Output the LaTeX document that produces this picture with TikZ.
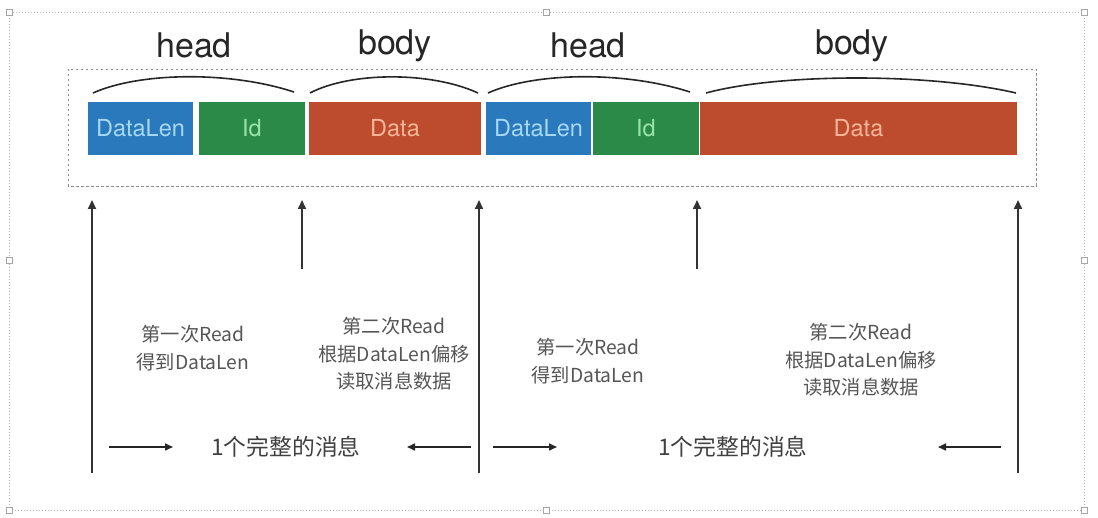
\documentclass[tikz,border=0pt]{standalone}
\usepackage{fontspec}
\setmainfont{TeX Gyre Heros}
\newfontfamily\cjk{Noto Sans CJK SC}
\usetikzlibrary{arrows.meta}
\definecolor{cblue}{HTML}{2A79BD}
\definecolor{cgreen}{HTML}{2B8A47}
\definecolor{cred}{HTML}{BD4B2D}
\definecolor{tblue}{HTML}{A6D8F5}
\definecolor{tgreen}{HTML}{98E3A8}
\definecolor{tred}{HTML}{F7B597}
\definecolor{lbl}{HTML}{555555}
\begin{document}
\begin{tikzpicture}[x=1pt,y=-1pt,
  block/.style={draw=none,minimum height=53pt,inner sep=0pt,font=\fontsize{23.5}{26}\selectfont},
  part/.style={font=\fontsize{34}{36}\selectfont,text=black!85},
  brace/.style={line width=1.6pt,black!85},
  uparrow/.style={line width=2pt,black!80,-{Triangle[length=9pt,width=8pt]}},
  sidearrow/.style={line width=1.6pt,black!85,-{Triangle[length=8pt,width=7pt]}},
  note/.style={font=\cjk\fontsize{19.3}{27.5}\selectfont,text=lbl,align=center},
  whole/.style={font=\cjk\fontsize{22.8}{24}\selectfont,text=black!75},
  handle/.style={draw=black!35,fill=white,line width=0.6pt,minimum size=6pt,inner sep=0pt}
]
\useasboundingbox (0,0) rectangle (1098,518);
% selection frame
\draw[black!30,line width=0.7pt,dash pattern=on 1.2pt off 1.8pt] (9,12) rectangle (1084,510);
\node[handle] (h1) at (9,12) {};
\node[handle] (h2) at (546,12) {};
\node[handle] (h3) at (1084,12) {};
\node[handle] (h4) at (9,260) {};
\node[handle] (h5) at (1084,260) {};
\node[handle] (h6) at (9,510) {};
\node[handle] (h7) at (546,510) {};
\node[handle] (h8) at (1084,510) {};
% inner dashed frame
\draw[black!45,line width=0.8pt,dash pattern=on 2.5pt off 2.5pt] (68,69) rectangle (1036,186);
% blocks
\node[block,fill=cblue,text=tblue,minimum width=105pt] (dl1) at (140.5,128.5) {DataLen};
\node[block,fill=cgreen,text=tgreen,minimum width=106pt] (id1) at (252,128.5) {Id};
\node[block,fill=cred,text=tred,minimum width=172pt] (d1) at (395,128.5) {Data};
\node[block,fill=cblue,text=tblue,minimum width=105pt] (dl2) at (538.5,128.5) {DataLen};
\node[block,fill=cgreen,text=tgreen,minimum width=106pt] (id2) at (646,128.5) {Id};
\node[block,fill=cred,text=tred,minimum width=317pt] (d2) at (858.5,128.5) {Data};
% braces
\coordinate (a1) at (93,93); \coordinate (b1) at (294,92);
\coordinate (a2) at (310,93); \coordinate (b2) at (478,93);
\coordinate (a3) at (488,93); \coordinate (b3) at (690,92);
\coordinate (a4) at (706,93); \coordinate (b4) at (1016,93);
\draw[brace] (a1) .. controls (140,72) and (230,71) .. (b1);
\draw[brace] (a2) .. controls (350,72) and (430,71) .. (b2);
\draw[brace] (a3) .. controls (535,72) and (625,71) .. (b3);
\draw[brace] (a4) .. controls (780,73) and (930,73) .. (b4);
\node[part] (t1) at (194,45) {head};
\node[part] (t2) at (395,46) {body};
\node[part] (t3) at (588,45) {head};
\node[part] (t4) at (852,46) {body};
% vertical arrows
\coordinate (v1s) at (92,473); \coordinate (v1e) at (92,200);
\coordinate (v2s) at (302,269); \coordinate (v2e) at (302,200);
\coordinate (v3s) at (479,473); \coordinate (v3e) at (479,200);
\coordinate (v4s) at (697,269); \coordinate (v4e) at (697,200);
\coordinate (v5s) at (1018,473); \coordinate (v5e) at (1018,200);
\draw[uparrow] (v1s) -- (v1e);
\draw[uparrow] (v2s) -- (v2e);
\draw[uparrow] (v3s) -- (v3e);
\draw[uparrow] (v4s) -- (v4e);
\draw[uparrow] (v5s) -- (v5e);
% notes
\node[note] (n1) at (193,348) {第一次Read\\得到DataLen};
\node[note] (n2) at (394,354) {第二次Read\\根据DataLen偏移\\读取消息数据};
\node[note] (n3) at (588,361) {第一次Read\\得到DataLen};
\node[note] (n4) at (861,360) {第二次Read\\根据DataLen偏移\\读取消息数据};
% whole message
\node[whole] (m1) at (286,447) {1个完整的消息};
\node[whole] (m2) at (733,447) {1个完整的消息};
\coordinate (s1) at (109,447); \coordinate (e1) at (173,447);
\coordinate (s2) at (471,447); \coordinate (e2) at (407,447);
\coordinate (s3) at (493,447); \coordinate (e3) at (557,447);
\coordinate (s4) at (1001,447); \coordinate (e4) at (938,447);
\draw[sidearrow] (s1) -- (e1);
\draw[sidearrow] (s2) -- (e2);
\draw[sidearrow] (s3) -- (e3);
\draw[sidearrow] (s4) -- (e4);
\end{tikzpicture}
\end{document}
